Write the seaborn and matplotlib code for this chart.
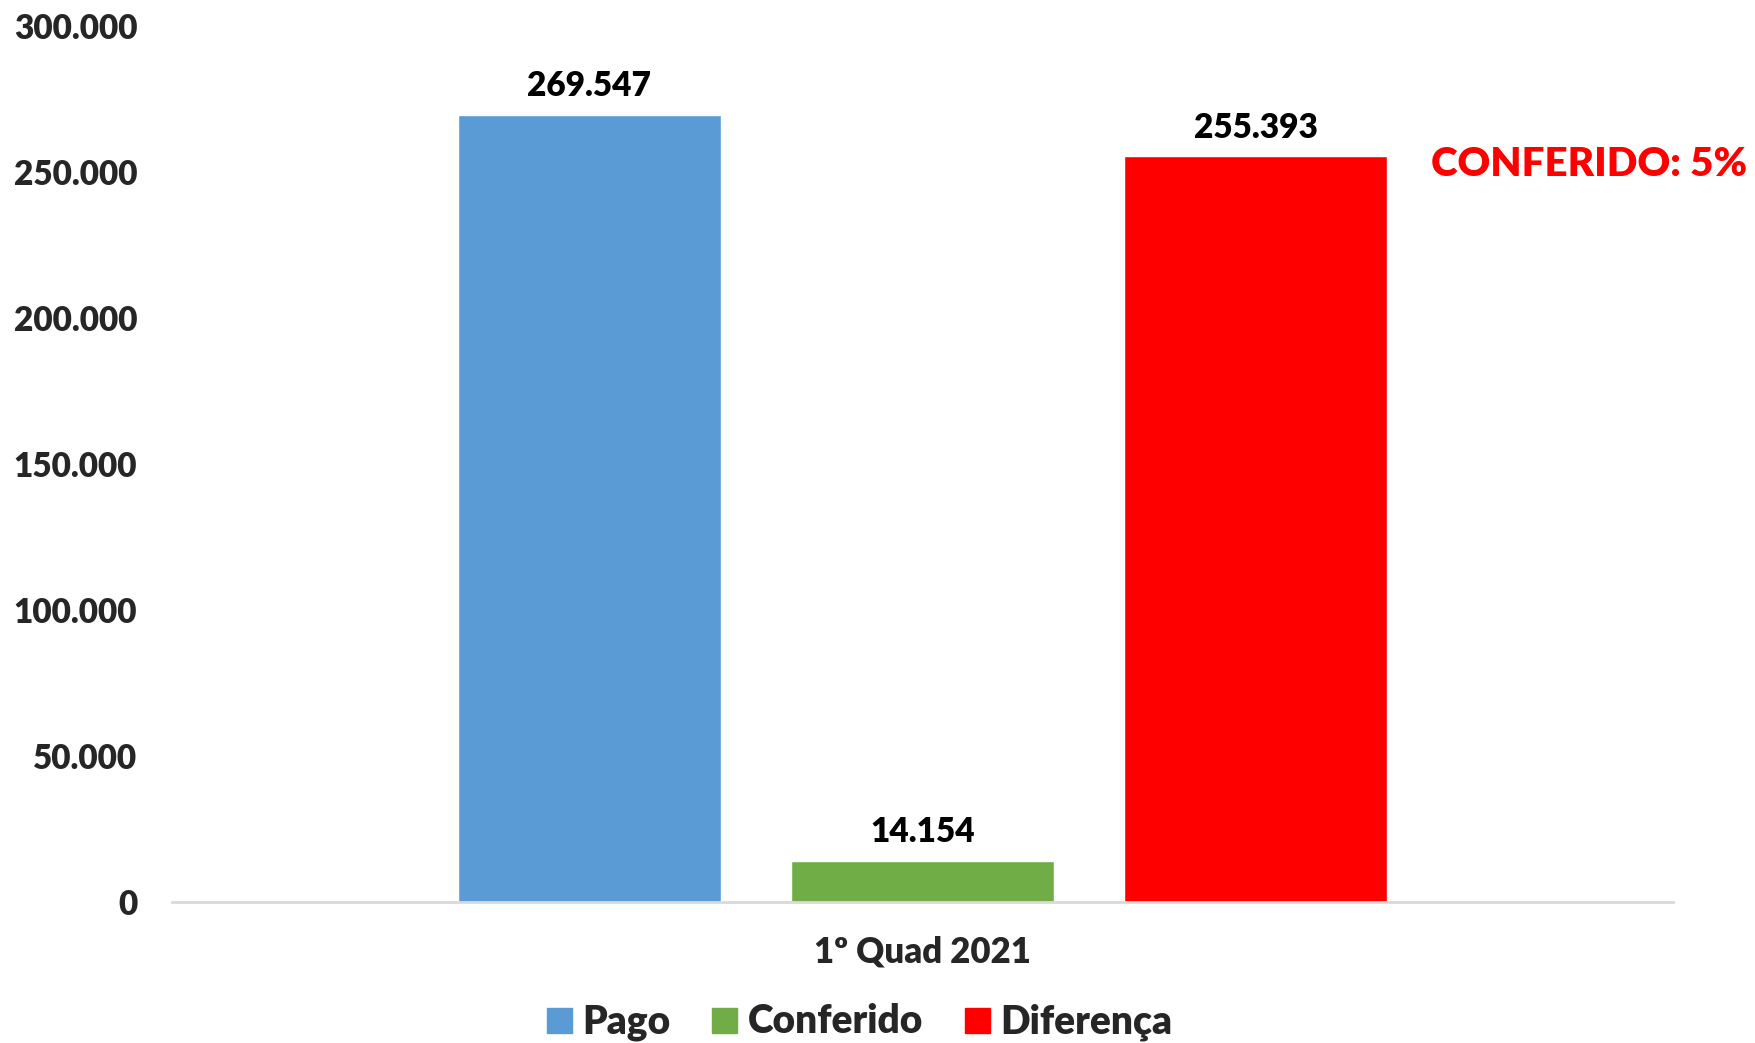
import matplotlib
matplotlib.use("Agg")
import matplotlib.pyplot as plt
import seaborn as sns
import pandas as pd
from matplotlib.lines import Line2D

# ---- data ----
periods = ["1º Quad 2021"]
series = ["Pago", "Conferido", "Diferença"]
values = [269547, 14154, 255393]
colors = ["#5B9BD5", "#70AD47", "#FF0000"]
yticks = [0, 50000, 100000, 150000, 200000, 250000, 300000]
note = "CONFERIDO: 5%"

def fmt(v):
    return f"{int(round(v)):,}".replace(",", ".")

df = pd.DataFrame({"period": periods * len(series), "serie": series, "valor": values})

W = "heavy"
sns.set_theme(style="white")
plt.rcParams["font.family"] = ["Lato", "DejaVu Sans"]
plt.rcParams["font.weight"] = W

fig = plt.figure(figsize=(17.56, 10.43), dpi=100)
ax = fig.add_axes([172/1756, 1 - 902/1043, (1673-172)/1756, (902-26)/1043])

sns.barplot(data=df, x="period", y="valor", hue="serie", hue_order=series,
            palette=colors, width=0.666, gap=0.21, saturation=1, ax=ax,
            legend=False, errorbar=None)

ax.set_xlim(-0.5, 0.5)
ax.set_ylim(0, 300000)
ax.set_yticks(yticks)
ax.set_yticklabels([fmt(t) for t in yticks], fontsize=24, fontweight=W)
ax.tick_params(axis="y", length=0, pad=25)
ax.tick_params(axis="x", length=0, pad=24, labelsize=25)
for lab in ax.get_xticklabels():
    lab.set_fontweight(W)
ax.set_xlabel("")
ax.set_ylabel("")
for s in ["top", "right", "left"]:
    ax.spines[s].set_visible(False)
ax.spines["bottom"].set_color("#D9D9D9")
ax.spines["bottom"].set_linewidth(2)

for cont in ax.containers:
    ax.bar_label(cont, labels=[fmt(v) for v in cont.datavalues], padding=9,
                 fontsize=24, fontweight=W, color="black")

fig.text(1747/1756, 1 - 165/1043, note, color="#FF0000", fontsize=29,
         fontweight=W, ha="right", va="center")

handles = [Line2D([0], [0], marker="s", linestyle="", markersize=18,
                  markerfacecolor=c, markeredgecolor=c) for c in colors]
fig.legend(handles, series, loc="center", bbox_to_anchor=(856/1756, 1 - 1022/1043),
           ncol=3, frameon=False, handletextpad=0.1,
           columnspacing=0.88, handlelength=1.0, prop={"weight": W, "size": 28})

fig.savefig("out.png", dpi=100)
